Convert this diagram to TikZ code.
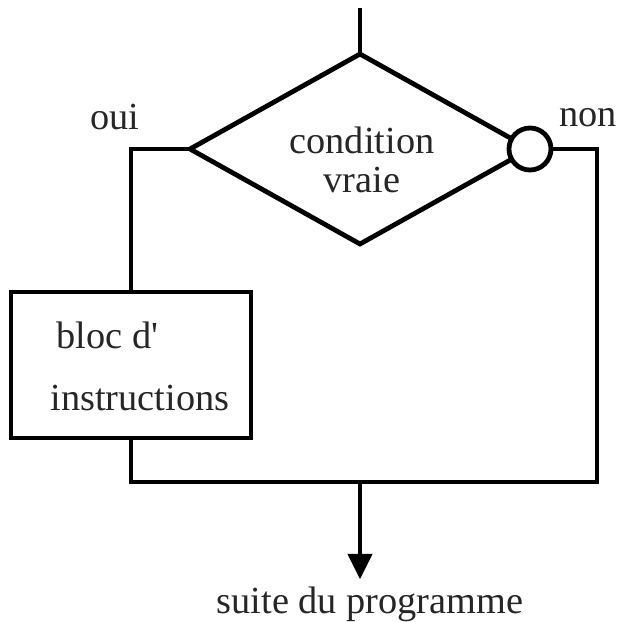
\documentclass[tikz,border=0pt]{standalone}
\usepackage{fontspec}
\setmainfont{Liberation Serif}
\usetikzlibrary{shapes.geometric,arrows.meta}
\begin{document}
\begin{tikzpicture}
[x=0.011cm, y=-0.011cm, line width=1.5pt, line join=miter, >={Triangle[width=7.5pt,length=8pt]},
font=\fontsize{12}{12.3}\selectfont,
cond/.style={diamond, draw, minimum width=3.74cm, minimum height=2.09cm, inner sep=0pt, outer sep=0pt},
bloc/.style={rectangle, draw, minimum width=2.64cm, minimum height=1.606cm, inner sep=0pt, outer sep=0pt},
neg/.style={circle, draw, fill=white, minimum size=0.462cm, inner sep=0pt, outer sep=0pt},
txt/.style={text=black!85, align=center}]
\useasboundingbox (0,0) rectangle (620,622);
% test et sorties
\node[cond] (dia) at (360,149) {};
\node[txt] (condtxt) at (362,160) {condition\\vraie};
\node[neg] (non) at (dia.east) {};
\node[txt] (oui) at (115,117) {oui};
\node[txt] (nonlbl) at (588,118) {non};
% bloc d'instructions
\node[bloc] (box) at (131,365) {};
\node[txt, align=left, anchor=west, inner sep=0pt, font=\fontsize{12}{19.4}\selectfont] (bloctxt) at (48,366) {\hspace*{2pt}bloc d\textquotesingle\\instructions};
\node[txt, inner sep=1.5pt] (suite) at (370,604) {suite du programme};
\coordinate (top) at (360,8);
\coordinate (rc) at (597,482);
\draw (top) -- (dia.north);
\draw (dia.west) -| (box.north);
\draw (non.east) -| (rc) -| (box.south);
\draw[->] (rc -| dia.south) -- (suite.north -| dia.south);
\end{tikzpicture}
\end{document}
